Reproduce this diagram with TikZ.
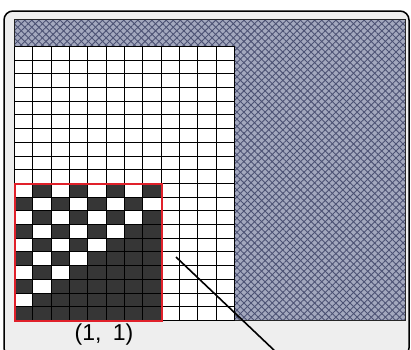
\documentclass[tikz,border=0pt]{standalone}
\usepackage{fontspec}
\setmainfont{Liberation Sans}
\usetikzlibrary{patterns.meta}
\definecolor{framebg}{HTML}{EEEEEE}
\definecolor{panel}{HTML}{A3A8BE}
\definecolor{hatch}{HTML}{4C5274}
\definecolor{cellc}{HTML}{363636}
\definecolor{redbox}{HTML}{E0202A}
\begin{document}
\begin{tikzpicture}[x=1pt,y=-1pt,
  gridline/.style={black, line width=1pt},
  framestyle/.style={black, line width=1.5pt, fill=framebg, rounded corners=9pt},
  panelborder/.style={black!85, line width=1pt},
  hatchA/.style={pattern={Lines[angle=45,distance=5pt,line width=0.9pt]}, pattern color=hatch},
  hatchB/.style={pattern={Lines[angle=-45,distance=5pt,line width=0.9pt]}, pattern color=hatch},
  darkcell/.style={fill=cellc},
  redframe/.style={draw=redbox, line width=2pt},
  pointer/.style={black, line width=1.6pt},
  label/.style={font=\fontsize{23}{23}\selectfont, inner sep=0pt}]
\useasboundingbox (0,0) rectangle (411,349);
\clip (0,0) rectangle (411,349);
% outer frame
\draw[framestyle] (4,11) rectangle (409,357);
% hatched panel
\fill[panel] (14.5,19.5) rectangle (405.5,320.5);
\fill[hatchA] (14.5,19.5) rectangle (405.5,320.5);
\fill[hatchB] (14.5,19.5) rectangle (405.5,320.5);
\draw[panelborder] (14.5,19.5) rectangle (405.5,320.5);
% white grid area
\fill[white] (14.5,46.5) rectangle (234.5,320.5);
% dark cells of the 8x10 block
\foreach \c in {1,...,8}{
  \foreach \r in {1,...,10}{
    \pgfmathtruncatemacro\w{and(mod(\c+\r,2)==1,\c<\r)}
    \ifnum\w=0
      \pgfmathsetmacro\xa{round(14+(\c-1)*220/12)+0.5}
      \pgfmathsetmacro\xb{round(14+\c*220/12)+0.5}
      \pgfmathsetmacro\ya{round(46+(20-\r)*13.7)+0.5}
      \pgfmathsetmacro\yb{round(46+(21-\r)*13.7)+0.5}
      \fill[darkcell] (\xa,\ya) rectangle (\xb,\yb);
    \fi
  }
}
% grid lines
\foreach \i in {0,...,12}{
  \pgfmathsetmacro\gx{round(14+\i*220/12)+0.5}
  \draw[gridline] (\gx,46.5) -- (\gx,320.5);
}
\foreach \j in {0,...,20}{
  \pgfmathsetmacro\gy{round(46+\j*13.7)+0.5}
  \draw[gridline] (14.5,\gy) -- (234.5,\gy);
}
% red block frame
\draw[redframe] (14.5,183.5) rectangle (161.5,320.5);
% label
\node[label] (lbl) at (104,335) {(1,\hspace{0.5em}1)};
% pointer line
\coordinate (ls) at (176,257);
\coordinate (le) at (277,353);
\draw[pointer] (ls) -- (le);
\end{tikzpicture}
\end{document}
